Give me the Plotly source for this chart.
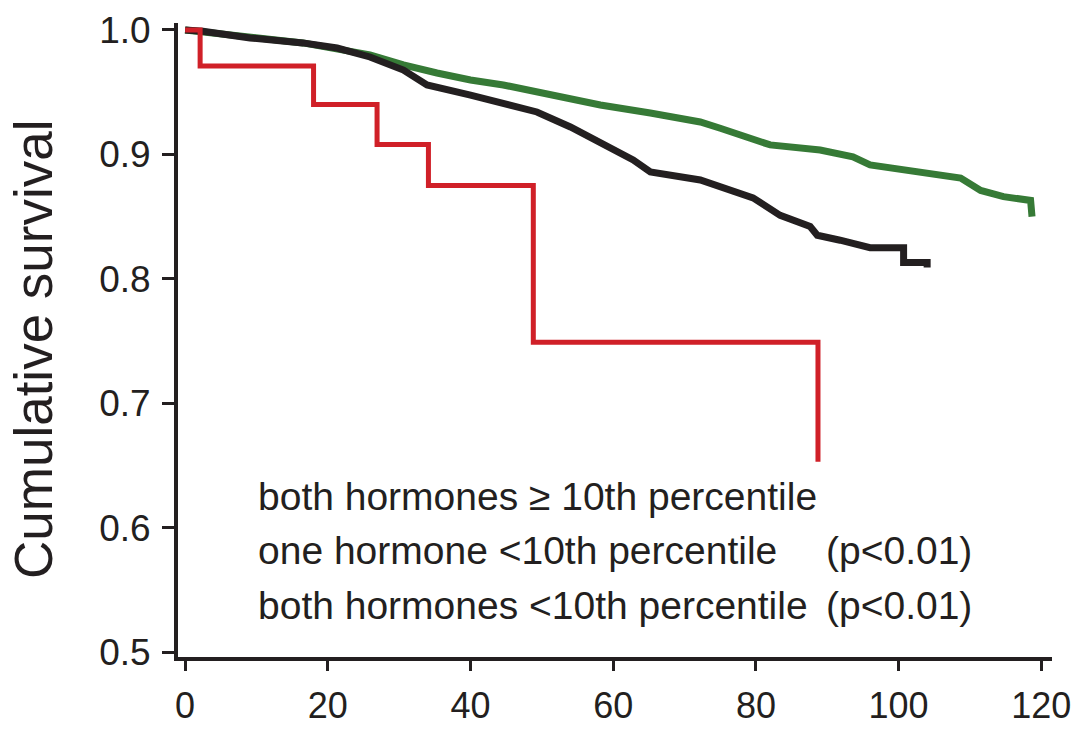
import plotly.graph_objects as go

# ---- data ----
red_t = [0, 2.1, 2.1, 18.0, 18.0, 26.9, 26.9, 34.1, 34.1, 48.8, 48.8, 88.7, 88.7]
red_s = [1.0, 1.0, 0.971, 0.971, 0.940, 0.940, 0.908, 0.908, 0.875, 0.875, 0.749, 0.749, 0.653]

black_t = [0, 2.5, 9.1, 16.5, 21.3, 25.9, 30.6, 33.9, 40.0, 44.6, 49.3, 54.0, 58.2, 62.8,
           65.2, 72.2, 79.6, 83.4, 87.6, 88.6, 91.8, 96.0, 100.7, 100.7, 104.0, 104.0]
black_s = [1.0, 0.999, 0.9936, 0.9896, 0.9855, 0.9783, 0.9678, 0.9558, 0.9477, 0.9413, 0.9341,
           0.922, 0.9092, 0.8955, 0.8859, 0.8794, 0.865, 0.851, 0.842, 0.835, 0.831, 0.825,
           0.825, 0.813, 0.813, 0.809]

green_t = [0, 9.1, 16.5, 25.9, 30.6, 35.3, 40.0, 44.6, 49.3, 54.0, 58.2, 65.2, 72.2, 75.0,
           82.0, 89.0, 93.6, 96.0, 103.0, 108.7, 111.5, 114.7, 118.5, 118.7]
green_s = [1.0, 0.9944, 0.9896, 0.980, 0.9719, 0.9654, 0.9598, 0.9558, 0.9502, 0.9453, 0.9397,
           0.9333, 0.926, 0.921, 0.9076, 0.9035, 0.898, 0.8915, 0.886, 0.881, 0.871, 0.866,
           0.863, 0.850]

x_ticks = [0, 20, 40, 60, 80, 100, 120]
y_ticks = [0.5, 0.6, 0.7, 0.8, 0.9, 1.0]
y_tick_text = ["0.5", "0.6", "0.7", "0.8", "0.9", "1.0"]

labels = ["both hormones \u2265 10th percentile",
          "one hormone <10th percentile",
          "both hormones <10th percentile"]
pvals = ["", "(p<0.01)", "(p<0.01)"]
y_title = "Cumulative survival"

# ---- figure ----
W, H = 1072, 730
L, R, T, B = 178, 20, 23, 73
TXT = "#231f20"
FONT = "Liberation Sans, Arial, sans-serif"

fig = go.Figure()
fig.add_trace(go.Scatter(x=green_t, y=green_s, mode="lines",
                         line=dict(color="#367a36", width=7), hoverinfo="skip"))
fig.add_trace(go.Scatter(x=black_t, y=black_s, mode="lines",
                         line=dict(color="#231f20", width=7), hoverinfo="skip"))
fig.add_trace(go.Scatter(x=red_t, y=red_s, mode="lines",
                         line=dict(color="#d02028", width=5), hoverinfo="skip"))


def px(xp):
    return (xp - L) / (W - L - R)


def py(yp):
    return (H - B - yp) / (H - T - B)


ann = []
line_y = [496, 550, 605]
for lab, pv, yy in zip(labels, pvals, line_y):
    ann.append(dict(text=lab, x=px(256), y=py(yy), xref="paper", yref="paper",
                    xanchor="left", yanchor="middle", showarrow=False,
                    font=dict(family=FONT, size=39, color=TXT)))
    if pv:
        ann.append(dict(text=pv, x=px(824), y=py(yy), xref="paper", yref="paper",
                        xanchor="left", yanchor="middle", showarrow=False,
                        font=dict(family=FONT, size=39, color=TXT)))
ann.append(dict(text=y_title, x=px(33), y=py(350), xref="paper", yref="paper",
                xanchor="center", yanchor="middle", showarrow=False, textangle=-90,
                font=dict(family=FONT, size=53, color=TXT)))

fig.update_layout(
    width=W, height=H, margin=dict(l=L, r=R, t=T, b=B, autoexpand=False),
    paper_bgcolor="white", plot_bgcolor="white", showlegend=False,
    annotations=ann,
    xaxis=dict(range=[-1.0, 121.5], tickvals=x_ticks, ticks="outside", ticklen=10,
               tickwidth=3, tickcolor=TXT, showline=True, linewidth=4, linecolor=TXT,
               showgrid=False, zeroline=False, ticklabelstandoff=4, automargin=False,
               tickfont=dict(family=FONT, size=36, color=TXT)),
    yaxis=dict(range=[0.496, 1.0056], tickvals=y_ticks, ticktext=y_tick_text,
               ticks="outside", ticklen=12, tickwidth=3, tickcolor=TXT, showline=True,
               linewidth=4, linecolor=TXT, showgrid=False, zeroline=False,
               ticklabelstandoff=4, automargin=False,
               tickfont=dict(family=FONT, size=37, color=TXT)),
)

fig.write_html("out.html")
